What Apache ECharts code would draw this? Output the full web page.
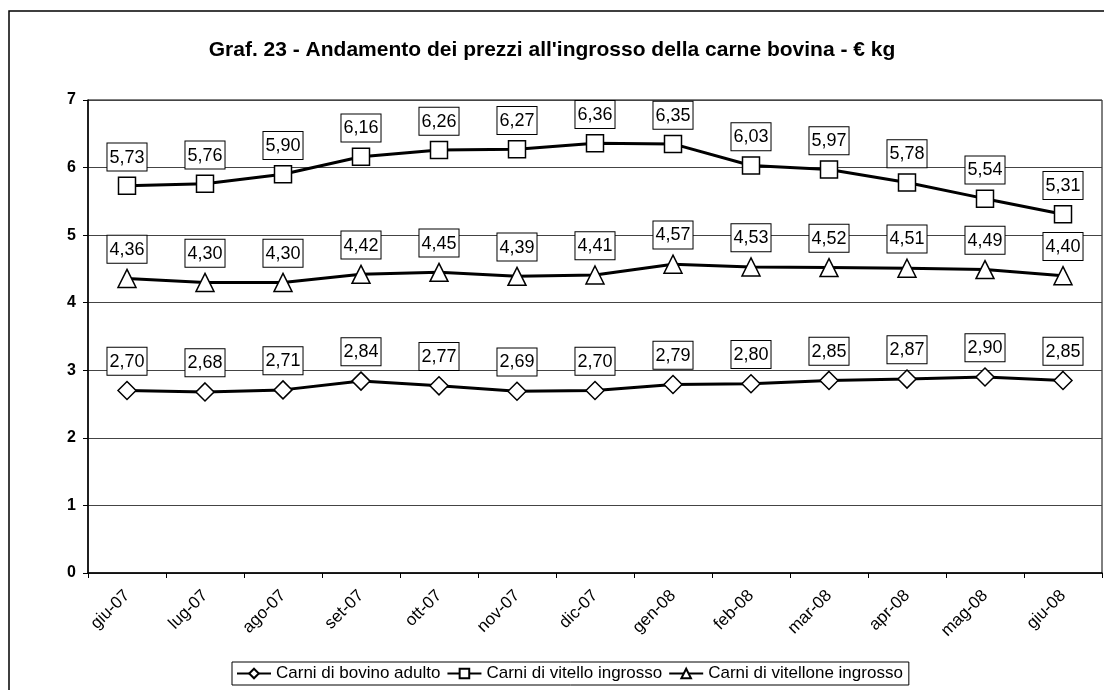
<!DOCTYPE html>
<html>
<head>
<meta charset="utf-8">
<script src="https://cdn.jsdelivr.net/npm/echarts@6/dist/echarts.min.js"></script>
<style>
html,body{margin:0;padding:0;background:#fff;}
#chart{width:1104px;height:690px;}
</style>
</head>
<body>
<div id="chart"></div>
<script>
const titleText = "Graf. 23 - Andamento dei prezzi all'ingrosso della carne bovina - € kg";
const categories = ['giu-07','lug-07','ago-07','set-07','ott-07','nov-07','dic-07','gen-08','feb-08','mar-08','apr-08','mag-08','giu-08'];
const seriesNames = ['Carni di bovino adulto','Carni di vitello ingrosso','Carni di vitellone ingrosso'];
const bovinoAdulto = [2.70,2.68,2.71,2.84,2.77,2.69,2.70,2.79,2.80,2.85,2.87,2.90,2.85];
const vitello = [5.73,5.76,5.90,6.16,6.26,6.27,6.36,6.35,6.03,5.97,5.78,5.54,5.31];
const vitellone = [4.36,4.30,4.30,4.42,4.45,4.39,4.41,4.57,4.53,4.52,4.51,4.49,4.40];

const FONT = 'Arial, "Liberation Sans", sans-serif';
const chart = echarts.init(document.getElementById('chart'), null, {renderer:'canvas'});

function mkSeries(name, data, symbol, size){
  return {
    name: name, type: 'line', data: data,
    symbol: symbol, symbolSize: size, showAllSymbol: true,
    lineStyle: {color:'#000', width:3},
    itemStyle: {color:'#fff', borderColor:'#000', borderWidth:1.5},
    label: {
      show: true, position: 'top', distance: 6,
      formatter: p => p.value.toFixed(2).replace('.', ','),
      color:'#000', fontFamily: FONT, fontSize: 18,
      backgroundColor:'#fff', borderColor:'#000', borderWidth:1,
      padding:[5,2,4,2]
    },
    emphasis: {disabled:true},
    animation:false
  };
}

chart.setOption({
  backgroundColor:'#fff',
  animation:false,
  title:{
    text:titleText, left:'center', top:35,
    textStyle:{fontFamily:FONT, fontSize:21, fontWeight:'bold', color:'#000'}
  },
  graphic:[{
    type:'rect', shape:{x:9, y:11, width:1200, height:800},
    style:{fill:'none', stroke:'#000', lineWidth:1.5}, silent:true
  }],
  legend:{
    data:seriesNames, left:232, bottom:5,
    itemWidth:34, itemHeight:12, itemGap:6,
    borderColor:'#000', borderWidth:1, padding:[3,6,3,4],
    textStyle:{fontFamily:FONT, fontSize:17, color:'#000'}
  },
  grid:{left:88, right:2, top:100, bottom:117, show:true, borderColor:'#000', borderWidth:1},
  xAxis:{
    type:'category', data:categories, boundaryGap:true,
    axisLine:{lineStyle:{color:'#000', width:1.5}},
    axisTick:{show:true, alignWithLabel:false, length:5, lineStyle:{color:'#000'}},
    axisLabel:{rotate:45, interval:0, margin:20, fontFamily:FONT, fontSize:17, color:'#000'},
    splitLine:{show:false}
  },
  yAxis:{
    type:'value', min:0, max:7, interval:1,
    axisLine:{show:true, lineStyle:{color:'#000', width:1.5}},
    axisTick:{show:true, length:5, lineStyle:{color:'#000'}},
    axisLabel:{margin:12, fontFamily:FONT, fontSize:16, fontWeight:'bold', color:'#000'},
    splitLine:{show:true, lineStyle:{color:'#444', width:1}}
  },
  series:[
    mkSeries(seriesNames[0], bovinoAdulto, 'diamond', 18),
    mkSeries(seriesNames[1], vitello, 'rect', 17),
    mkSeries(seriesNames[2], vitellone, 'triangle', 18)
  ]
});
</script>
</body>
</html>
